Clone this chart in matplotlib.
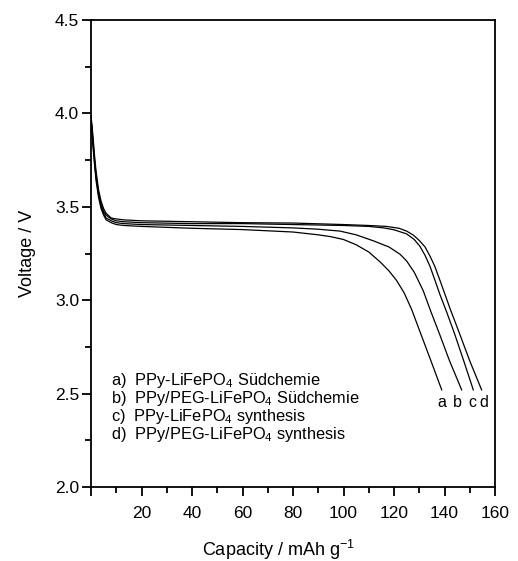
import numpy as np
import matplotlib.pyplot as plt
from matplotlib.ticker import MultipleLocator

plt.rcParams['font.family'] = ['Liberation Sans', 'DejaVu Sans']
plt.rcParams['mathtext.default'] = 'regular'

## Discharge curves (capacity in mAh/g, voltage in V)
cap_a = [0, 0.5, 1, 1.5, 2, 3, 4, 5, 6, 8, 10, 13, 20, 40, 60, 80, 90, 95, 100, 105, 110, 114.5, 118, 121, 124, 127, 130, 134.5, 138.9]
volt_a = [3.97, 3.88, 3.79, 3.71, 3.64, 3.55, 3.49, 3.455, 3.43, 3.415, 3.405, 3.40, 3.395, 3.385, 3.378, 3.365, 3.35, 3.34, 3.325, 3.297, 3.258, 3.205, 3.157, 3.106, 3.04, 2.95, 2.842, 2.68, 2.52]

cap_b = [0, 0.5, 1, 1.5, 2, 3, 4, 5, 6, 8, 10, 13, 20, 40, 60, 80, 90, 98.6, 105, 111.8, 118, 122.4, 125, 128, 131.6, 134.3, 138, 142, 146.8]
volt_b = [3.975, 3.89, 3.80, 3.73, 3.66, 3.565, 3.50, 3.465, 3.44, 3.425, 3.415, 3.41, 3.405, 3.40, 3.395, 3.387, 3.38, 3.37, 3.35, 3.318, 3.285, 3.246, 3.21, 3.15, 3.05, 2.95, 2.82, 2.675, 2.52]

cap_c = [0, 0.5, 1, 1.5, 2, 3, 4, 5, 6, 8, 10, 13, 20, 40, 60, 80, 100, 110, 116, 120, 125, 128, 130.3, 132.3, 134.3, 136, 138.2, 140.9, 144, 147.5, 151.4]
volt_c = [3.98, 3.90, 3.82, 3.74, 3.67, 3.575, 3.515, 3.475, 3.455, 3.435, 3.425, 3.42, 3.415, 3.41, 3.41, 3.405, 3.40, 3.395, 3.387, 3.377, 3.355, 3.325, 3.288, 3.24, 3.18, 3.115, 3.03, 2.935, 2.82, 2.68, 2.52]

cap_d = [0, 0.5, 1, 1.5, 2, 3, 4, 5, 6, 8, 10, 13, 20, 40, 60, 80, 100, 110, 117, 122, 125, 127.7, 130, 132.3, 134.3, 136.2, 138.9, 142.2, 146, 150, 154.7]
volt_d = [3.985, 3.92, 3.84, 3.76, 3.69, 3.59, 3.53, 3.49, 3.465, 3.44, 3.435, 3.43, 3.425, 3.42, 3.415, 3.413, 3.405, 3.40, 3.395, 3.385, 3.37, 3.348, 3.32, 3.285, 3.235, 3.18, 3.08, 2.955, 2.82, 2.675, 2.52]

curve_letters = ['a', 'b', 'c', 'd']
letter_x = [138.9, 145.1, 151.2, 155.4]
legend_lines = ['a)  PPy-LiFePO$_4$ Südchemie',
                'b)  PPy/PEG-LiFePO$_4$ Südchemie',
                'c)  PPy-LiFePO$_4$ synthesis',
                'd)  PPy/PEG-LiFePO$_4$ synthesis']

fig = plt.figure(figsize=(5.18, 5.61), dpi=100)
ax = fig.add_axes([91/518, 74/561, 404/518, 467/561])

for cx, vy in [(cap_a, volt_a), (cap_b, volt_b), (cap_c, volt_c), (cap_d, volt_d)]:
    ax.plot(cx, vy, color='black', lw=0.9)

for letter, lx in zip(curve_letters, letter_x): ## letters under the curve ends
    ax.text(lx, 2.45, letter, ha='center', va='center', fontsize=11.5)

for i, line in enumerate(legend_lines): ## label block in lower left
    ax.text(0.05, 0.228 - i*0.0385, line, transform=ax.transAxes, ha='left', va='center', fontsize=11.8)

ax.set_xlim(0, 160)
ax.set_ylim(2.0, 4.5)
ax.xaxis.set_minor_locator(MultipleLocator(10))
ax.yaxis.set_major_locator(MultipleLocator(0.5))
ax.yaxis.set_minor_locator(MultipleLocator(0.25))
ax.set_xticks(np.arange(0, 161, 20))
ax.set_xticklabels([''] + [str(v) for v in range(20, 161, 20)])
ax.yaxis.set_major_formatter(plt.FormatStrFormatter('%.1f'))
ax.tick_params(which='both', direction='out', top=False, right=False, width=1.3, labelsize=12.5)
ax.tick_params(which='major', length=6.5)
ax.tick_params(which='minor', length=4)
ax.tick_params(axis='x', pad=7)
ax.tick_params(axis='y', pad=2)
for s in ax.spines.values():
    s.set_linewidth(1.3)

ax.set_xlabel('Capacity / mAh g$^{-1}$', fontsize=13)
ax.set_ylabel('Voltage / V', fontsize=13)
ax.xaxis.set_label_coords(0.463, -0.108)
ax.yaxis.set_label_coords(-0.137, 0.5)

fig.savefig('out.png', dpi=100)
